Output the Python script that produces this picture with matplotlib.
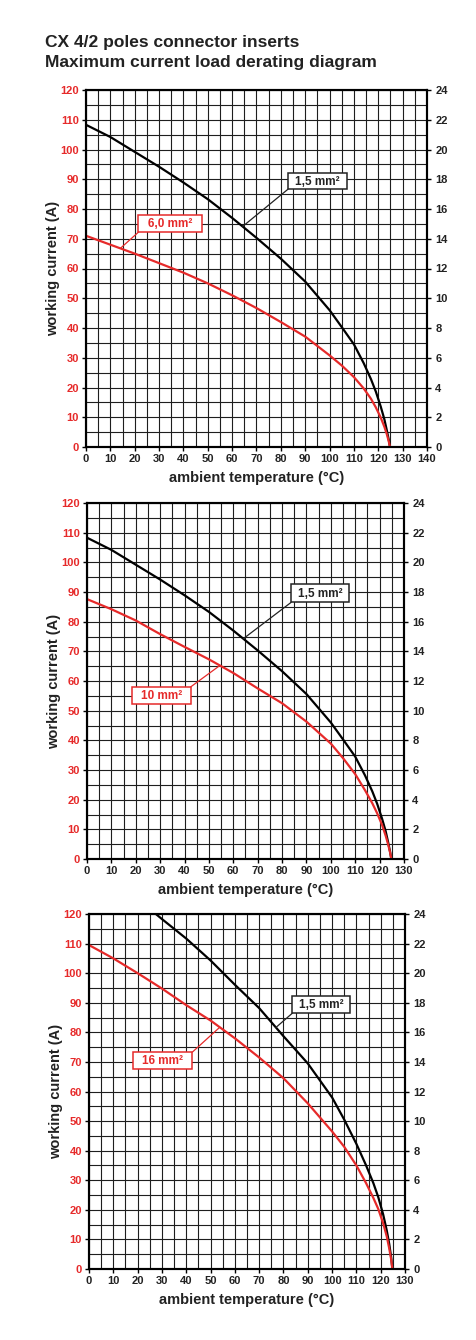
import numpy as np
import matplotlib
matplotlib.use('Agg')
import matplotlib.pyplot as plt
from matplotlib.patches import Rectangle

plt.rcParams['font.family'] = ['Liberation Sans', 'DejaVu Sans']
plt.rcParams['font.weight'] = 'bold'

RED = '#e62a2a'
DARK = '#222222'

# values (temperature in degC, current in A)
temps = [0, 10, 20, 30, 40, 50, 60, 70, 80, 90, 100, 105, 110, 114, 117, 119, 121, 122.5, 123.5, 124.3, 124.8]
amps_15 = [108.3, 104.2, 99.2, 94.2, 88.9, 83.3, 77, 70.3, 63.3, 55.6, 46, 40.3, 34.5, 28.2, 22.8, 18.6, 13.6, 9.3, 5.6, 2.4, 0]
amps_60 = [71, 68, 65, 61.8, 58.6, 55, 51, 46.7, 42, 37.1, 30.8, 27.4, 23.5, 19.7, 16.2, 13.3, 9.9, 6.8, 4.3, 1.9, 0]
amps_10 = [87.6, 84.2, 80.4, 75.8, 71.5, 67.3, 62.7, 57.5, 52.5, 46.3, 38.9, 34, 28.6, 23.2, 18.8, 15.4, 11.5, 7.8, 4.9, 2.2, 0]
amps_16 = [109.5, 105, 100, 94.8, 89.2, 84, 78, 71.5, 64.5, 56, 46.5, 41.3, 35, 29, 24, 20.3, 15.5, 11, 7, 3.3, 0]

# 1,5 mm2 curve of the third diagram starts above the top of the axis
temps_15b = [27.5, 30, 40, 50, 60, 70, 80, 90, 100, 105, 110, 114, 117, 119, 121, 122.5, 123.5, 124.3, 124.8]
amps_15b = [120, 118.3, 111.7, 104.3, 96.1, 88.2, 78.7, 69.5, 58, 50.5, 42.3, 35, 29, 24.3, 18.5, 13, 8.5, 4, 0]

x_max = [140, 130, 130]
left_ticks = np.arange(0, 121, 10)
right_ticks = np.arange(0, 25, 2)

W, H = 477, 1340
fig = plt.figure(figsize=(W / 100, H / 100), dpi=100)


def px_rect(l, t, r, b):
    return [l / W, 1 - b / H, (r - l) / W, (b - t) / H]


def label_box(ax, text, color, box, corner, t_curve, xs, ys):
    x0, y0, x1, y1 = box
    ax.add_patch(Rectangle((x0, y0), x1 - x0, y1 - y0, fc='white', ec=color,
                           lw=1.1, zorder=5))
    ax.text((x0 + x1) / 2, (y0 + y1) / 2 - 0.3, text, color=color, fontsize=8.5,
            fontweight='bold', ha='center', va='center', zorder=6)
    ax.annotate('', xy=(t_curve, np.interp(t_curve, xs, ys)), xytext=corner,
                arrowprops=dict(arrowstyle='-', color=color, lw=0.9,
                                shrinkA=0, shrinkB=0), zorder=4)


def draw_panel(rect, xmax, curves, boxes):
    ax = fig.add_axes(rect)
    ax.set_xlim(0, xmax)
    ax.set_ylim(0, 120)
    ax.set_xticks(np.arange(0, xmax + 1, 10))
    ax.set_xticks(np.arange(0, xmax + 1, 5), minor=True)
    ax.set_yticks(left_ticks)
    ax.set_yticks(np.arange(0, 121, 5), minor=True)
    ax.grid(which='both', color='#1e1e1e', lw=0.8)
    ax.set_axisbelow(True)
    ax.tick_params(which='minor', length=0)
    ax.tick_params(which='major', length=3, width=1, pad=2, labelsize=8,
                   labelcolor=DARK)
    ax.tick_params(axis='y', labelcolor=RED)
    for s in ax.spines.values():
        s.set_linewidth(1.5)

    for xs, ys, c in curves:
        ax.plot(xs, ys, color=c, lw=1.6, zorder=3, solid_capstyle='butt')

    for b in boxes:
        label_box(ax, *b)

    ax.set_xlabel('ambient temperature (°C)', fontsize=10.5, fontweight='bold',
                  color=DARK, labelpad=5)
    ax.set_ylabel('working current (A)', fontsize=10.5, fontweight='bold',
                  color=DARK, labelpad=0)

    ax2 = ax.twinx()
    ax2.set_ylim(0, 24)
    ax2.set_yticks(right_ticks)
    ax2.tick_params(length=3, width=1, pad=3, labelsize=8, labelcolor=DARK)
    for s in ax2.spines.values():
        s.set_linewidth(1.5)
    return ax


fig.text(45 / W, 1 - 46.5 / H, 'CX 4/2 poles connector inserts', fontsize=12.5,
         fontweight='bold', color=DARK, va='baseline')
fig.text(45 / W, 1 - 66.5 / H, 'Maximum current load derating diagram', fontsize=12.5,
         fontweight='bold', color=DARK, va='baseline')

draw_panel(px_rect(86, 90, 427, 447), x_max[0],
           [(temps, amps_15, 'black'), (temps, amps_60, RED)],
           [('1,5 mm²', DARK, (83, 86.7, 107, 92), (83, 86.7), 64.3, temps, amps_15),
            ('6,0 mm²', RED, (21.5, 72.2, 47.5, 78), (21.5, 72.2), 14.1, temps, amps_60)])

draw_panel(px_rect(87, 503, 404, 859), x_max[1],
           [(temps, amps_15, 'black'), (temps, amps_10, RED)],
           [('1,5 mm²', DARK, (83.7, 86.5, 107.5, 92.6), (83.7, 86.5), 64.1, temps, amps_15),
            ('10 mm²', RED, (18.3, 52.4, 42.5, 58), (42.5, 58), 54.5, temps, amps_10)])

draw_panel(px_rect(89, 914, 405, 1269), x_max[2],
           [(temps_15b, amps_15b, 'black'), (temps, amps_16, RED)],
           [('1,5 mm²', DARK, (83.7, 86.5, 107.5, 92.4), (83.7, 86.5), 76.9, temps_15b, amps_15b),
            ('16 mm²', RED, (18.2, 67.6, 42.5, 73.3), (42.5, 73.3), 53.8, temps, amps_16)])

fig.savefig('out.png', dpi=100)
